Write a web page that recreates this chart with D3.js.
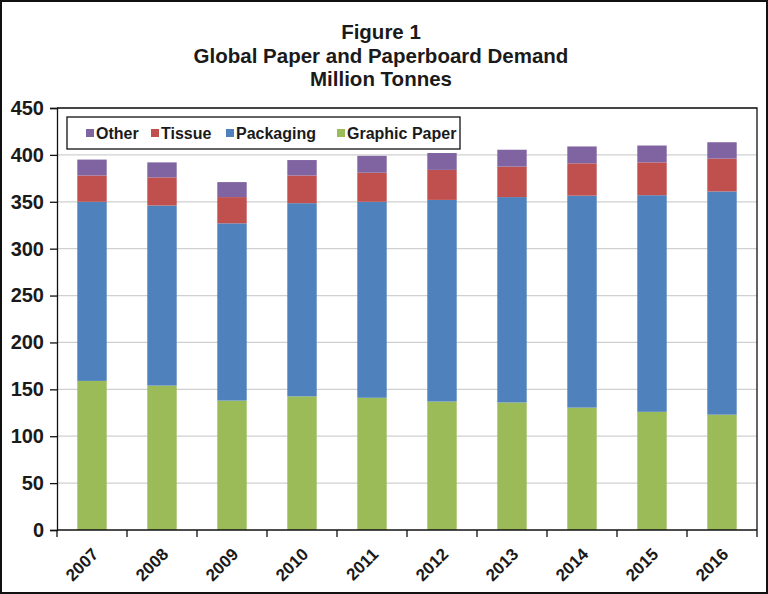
<!DOCTYPE html>
<html><head><meta charset="utf-8">
<script src="https://cdn.jsdelivr.net/npm/d3@7"></script>
<style>
html,body{margin:0;padding:0;background:#fff;}
text{font-family:"Liberation Sans",Arial,sans-serif;font-weight:bold;fill:#1a1a1a;}
</style></head>
<body><svg id="c" width="768" height="594"></svg>
<script>
const years = ["2007","2008","2009","2010","2011","2012","2013","2014","2015","2016"];
const graphicPaper = [159, 154, 138, 142.5, 141, 137, 136, 130.5, 126, 123];
const packaging    = [191, 192, 189, 206, 209, 215, 219, 226, 231, 238];
const tissue       = [28, 30, 28, 29.5, 31, 32, 32.5, 34.5, 35, 35];
const other        = [17, 16, 16, 16.5, 18, 18, 18, 18, 18, 17.5];
const seriesNames  = ["Graphic Paper","Packaging","Tissue","Other"];
const legendOrder  = ["Other","Tissue","Packaging","Graphic Paper"];
const yTicks = [0,50,100,150,200,250,300,350,400,450];
const titleLines = ["Figure 1","Global Paper and Paperboard Demand","Million Tonnes"];
const colors = {"Graphic Paper":"#9BBB59","Packaging":"#4F81BD","Tissue":"#C0504D","Other":"#8064A2"};

const svg = d3.select("#c");
const W=768,H=594;
const m = {l:57, r:11, t:108, b:64};
const x = d3.scaleBand().domain(years).range([m.l, W-m.r]).paddingInner(0.58).paddingOuter(0.29);
const y = d3.scaleLinear().domain([0,450]).range([H-m.b, m.t]);

// outer frame
svg.append("rect").attr("x",1).attr("y",1).attr("width",W-2).attr("height",H-2)
  .attr("fill","#fff").attr("stroke","#111").attr("stroke-width",2);

// title
svg.selectAll("text.title").data(titleLines).enter().append("text")
  .attr("class","title").attr("x",381).attr("y",(d,i)=>39+i*23.5)
  .attr("text-anchor","middle").style("font-size","20.5px").text(d=>d);

// gridlines
svg.append("g").selectAll("line").data(yTicks.filter(d=>d>0)).enter().append("line")
  .attr("x1",m.l).attr("x2",W-m.r).attr("y1",d=>y(d)).attr("y2",d=>y(d))
  .attr("stroke","#d0d0d0").attr("stroke-width",1.2);

// stacked bars
const table = years.map((yr,i)=>({year:yr,"Graphic Paper":graphicPaper[i],"Packaging":packaging[i],"Tissue":tissue[i],"Other":other[i]}));
const stacked = d3.stack().keys(seriesNames)(table);
svg.append("g").selectAll("g").data(stacked).enter().append("g")
  .attr("fill",d=>colors[d.key])
  .selectAll("rect").data(d=>d).enter().append("rect")
  .attr("x",d=>x(d.data.year)).attr("width",x.bandwidth())
  .attr("y",d=>y(d[1])).attr("height",d=>y(d[0])-y(d[1]));

// plot border top/right
svg.append("path").attr("d",`M${m.l},${m.t}H${W-m.r}V${H-m.b}`).attr("fill","none").attr("stroke","#111").attr("stroke-width",1.3);

// y axis
const ya = svg.append("g").attr("transform",`translate(${m.l},0)`)
  .call(d3.axisLeft(y).tickValues(yTicks).tickSize(7).tickPadding(6));
ya.select(".domain").attr("stroke","#111").attr("stroke-width",1.3);
ya.selectAll(".tick line").attr("stroke","#111").attr("stroke-width",1.3);
ya.selectAll("text").style("font-size","20px").style("font-family","'Liberation Sans',Arial,sans-serif").style("font-weight","bold").attr("fill","#1a1a1a");

// x axis
const xa = svg.append("g").attr("transform",`translate(0,${H-m.b})`);
xa.append("line").attr("x1",m.l).attr("x2",W-m.r).attr("stroke","#111").attr("stroke-width",1.3);
const bounds = d3.range(years.length+1).map(i=>m.l+i*( (W-m.r-m.l)/years.length ));
xa.selectAll("line.tk").data(bounds).enter().append("line").attr("class","tk")
  .attr("x1",d=>d).attr("x2",d=>d).attr("y1",0).attr("y2",7).attr("stroke","#111").attr("stroke-width",1.3);
xa.selectAll("text").data(years).enter().append("text")
  .attr("transform",d=>`translate(${x(d)+x.bandwidth()/2-1},${17}) rotate(-45)`)
  .attr("text-anchor","end").attr("dy","0.7em").style("font-size","17px").text(d=>d);

// legend
const lg = svg.append("g");
lg.append("rect").attr("x",67).attr("y",117).attr("width",393).attr("height",32)
  .attr("fill","#fff").attr("stroke","#111").attr("stroke-width",1.3);
const lx = [86,151,226,337];
legendOrder.forEach((k,i)=>{
  lg.append("rect").attr("x",lx[i]).attr("y",129).attr("width",8).attr("height",8).attr("fill",colors[k]);
  lg.append("text").attr("x",lx[i]+10).attr("y",139).style("font-size",
    "16px").text(k);
});
</script></body></html>
